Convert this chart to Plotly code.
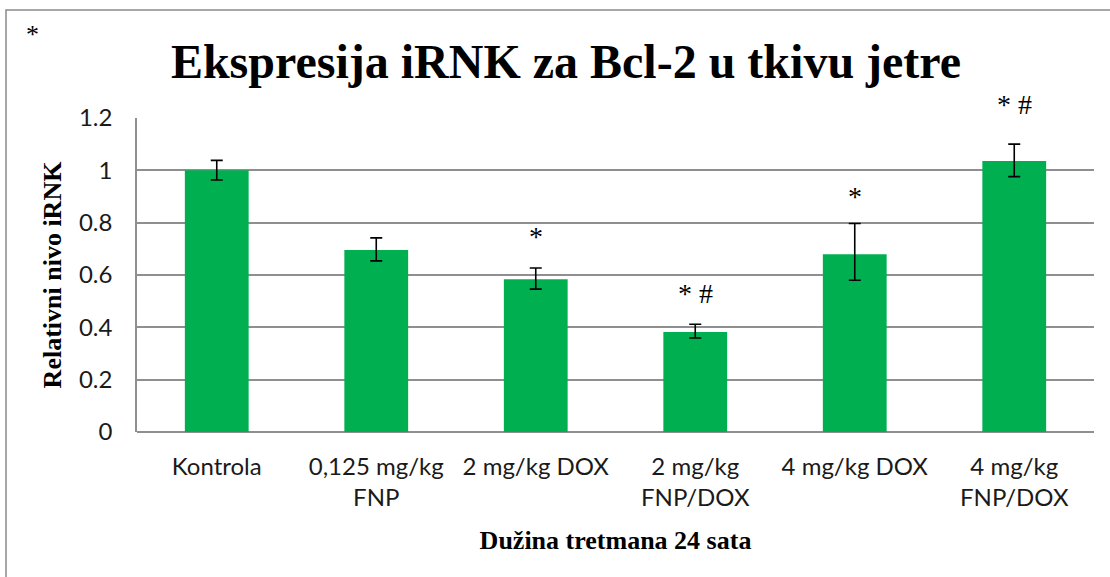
import plotly.graph_objects as go

# Treatment groups (x-axis tick labels)
groups = [
    "Kontrola",
    "0,125 mg/kg<br>FNP",
    "2 mg/kg DOX",
    "2 mg/kg<br>FNP/DOX",
    "4 mg/kg DOX",
    "4 mg/kg<br>FNP/DOX",
]

# Relative Bcl-2 mRNA level and error bar extents
level = [1.00, 0.696, 0.584, 0.382, 0.679, 1.036]
err_plus = [0.038, 0.046, 0.043, 0.030, 0.118, 0.064]
err_minus = [0.037, 0.042, 0.038, 0.023, 0.099, 0.060]

# Significance marks per group
marks = ["", "", "*", "* #", "*", "* #"]

y_ticks = [0, 0.2, 0.4, 0.6, 0.8, 1.0, 1.2]
y_tick_text = ["0", "0.2", "0.4", "0.6", "0.8", "1", "1.2"]

GREEN = "#00B050"
GRID = "#8f8f8f"
SERIF = "Liberation Serif, Times New Roman, serif"
SANS = "Lato, Carlito, Calibri, sans-serif"

# Plot-area geometry in pixels (used to place paper-referenced extras)
W, H = 1110, 577
L, R, T, B = 137, 16, 118, 145
PW, PH = W - L - R, H - T - B


def px_x(px):
    return (px - L) / PW


def px_y(py):
    return (H - B - py) / PH


fig = go.Figure()
fig.add_trace(go.Bar(
    x=groups,
    y=level,
    marker=dict(color=GREEN, line=dict(width=0)),
    error_y=dict(
        type="data",
        symmetric=False,
        array=err_plus,
        arrayminus=err_minus,
        color="black",
        thickness=1.6,
        width=6,
    ),
    width=0.4,
    cliponaxis=False,
    hoverinfo="skip",
))

# Significance labels sit a few pixels above each upper error cap
mark_shift = [0, 0, 14, 13, 9, 22]
annotations = []
for g, v, e, m, s in zip(groups, level, err_plus, marks, mark_shift):
    if not m:
        continue
    annotations.append(dict(
        x=g, y=v + e, xref="x", yref="y",
        text=m, showarrow=False,
        xanchor="center", yanchor="bottom", yshift=s,
        font=dict(family=SERIF, size=28, color="black"),
    ))

# Lone asterisk in the upper-left corner
annotations.append(dict(
    x=px_x(32), y=px_y(35), xref="paper", yref="paper",
    text="*", showarrow=False, xanchor="center", yanchor="middle",
    font=dict(family=SERIF, size=26, color="black"),
))

fig.update_layout(
    width=W,
    height=H,
    paper_bgcolor="white",
    plot_bgcolor="white",
    margin=dict(l=L, r=R, t=T, b=B),
    showlegend=False,
    title=dict(
        text="<b>Ekspresija iRNK za Bcl-2 u tkivu jetre</b>",
        font=dict(family=SERIF, size=48, color="black"),
        x=566 / W, xanchor="center", xref="container",
        y=1 - 61 / H, yanchor="middle", yref="container",
    ),
    annotations=annotations,
    shapes=[dict(
        type="rect", xref="paper", yref="paper",
        x0=px_x(6), x1=px_x(1130), y0=px_y(600), y1=px_y(10),
        line=dict(color="#8a8a8a", width=1.5),
        fillcolor="rgba(0,0,0,0)", layer="below",
    )],
)

fig.update_xaxes(
    type="category",
    showgrid=False,
    showline=False,
    ticks="",
    tickfont=dict(family=SANS, size=24, color="#1a1a1a"),
    ticklabelstandoff=18,
    title=dict(
        text="<b>Dužina tretmana 24 sata</b>",
        font=dict(family=SERIF, size=26, color="black"),
        standoff=20,
    ),
)

fig.update_yaxes(
    range=[0, 1.2],
    tickvals=y_ticks,
    ticktext=y_tick_text,
    showgrid=True,
    gridcolor=GRID,
    gridwidth=1.5,
    zeroline=True,
    zerolinecolor=GRID,
    zerolinewidth=1.5,
    showline=True,
    linecolor=GRID,
    linewidth=1.5,
    ticks="",
    tickfont=dict(family=SANS, size=24, color="#1a1a1a"),
    ticklabelstandoff=18,
    title=dict(
        text="<b>Relativni nivo iRNK</b>",
        font=dict(family=SERIF, size=26, color="black"),
        standoff=10,
    ),
)

fig.write_html("out.html")
